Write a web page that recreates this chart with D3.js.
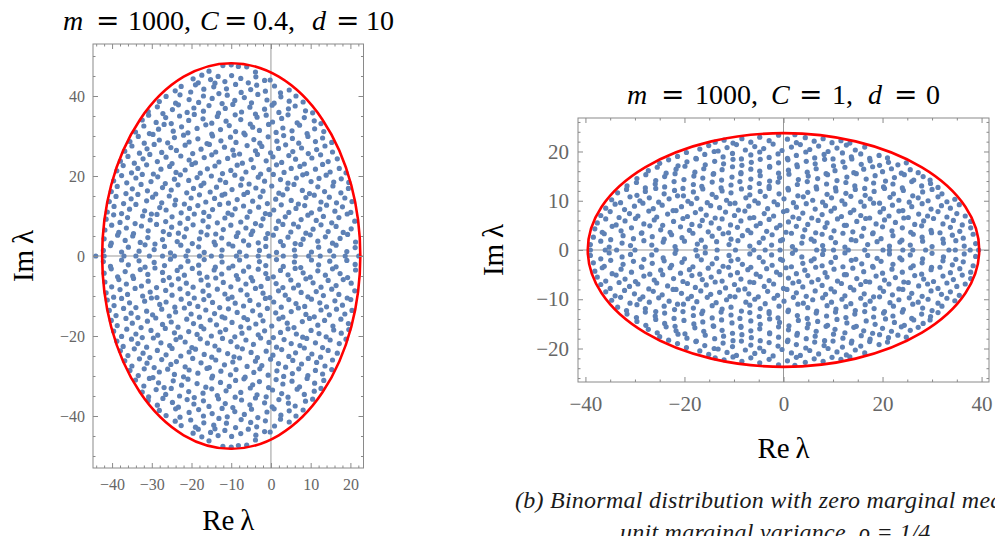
<!DOCTYPE html>
<html><head><meta charset="utf-8">
<script src="https://cdn.jsdelivr.net/npm/d3@7"></script>
<style>body{margin:0;background:#fff}svg{display:block}</style>
</head><body>
<svg id="chart" width="995" height="536"></svg>
<script>
// ---------- DATA ----------
// Panel (a): m = 1000, C = 0.4, d = 10. Complex eigenvalues with Im > 0 (their conjugates are drawn mirrored)
const leftUpper = [
[-12.1,47.6],[-10.0,47.8],[-8.2,47.4],[-6.1,47.3],[-15.6,46.2],[-3.9,46.0],
[-19.6,44.3],[-17.4,45.2],[-15.2,44.1],[-13.3,44.9],[-11.6,43.6],[-9.9,45.1],[-7.6,44.4],[-5.7,43.3],[-3.8,44.8],[-1.6,43.9],[-14.1,43.2],[-0.2,44.0],[-18.3,43.3],
[-24.1,41.3],[-22.6,42.4],[-20.2,41.0],[-19.0,42.8],[-16.9,41.7],[-14.4,42.3],[-13.1,40.6],[-11.2,41.8],[-8.9,42.9],[-7.5,40.9],[-5.1,41.6],[-3.6,42.7],[-1.4,41.2],[0.9,42.5],[2.4,40.8],[4.6,41.5],
[-28.1,38.6],[-26.4,39.9],[-24.0,38.2],[-22.9,40.3],[-20.6,39.1],[-18.2,38.4],[-17.0,40.0],[-14.8,39.4],[-12.3,38.1],[-11.0,40.2],[-9.1,38.9],[-6.7,39.6],[-4.9,38.3],[-3.3,40.4],[-1.0,39.0],[0.8,38.2],[2.5,39.8],[4.6,38.7],[6.3,40.0],[8.1,38.5],
[-30.9,36.1],[-28.6,37.3],[-27.2,35.6],[-24.8,36.6],[-23.3,37.8],[-21.1,35.9],[-19.4,37.0],[-17.0,36.2],[-15.6,37.6],[-13.2,35.7],[-11.5,36.9],[-9.6,37.9],[-7.4,36.0],[-5.3,37.2],[-3.9,35.5],[-1.6,36.7],[0.3,37.7],[2.0,35.9],[4.4,36.8],[6.1,37.5],[8.7,36.3],[10.5,35.8],
[-32.4,34.0],[-30.8,35.2],[-28.9,33.4],[-26.5,34.6],[-25.1,33.1],[-23.0,35.0],[-20.7,33.9],[-19.3,35.4],[-17.1,34.3],[-14.9,33.2],[-13.5,34.9],[-11.3,33.7],[-9.0,35.3],[-7.6,34.1],[-5.2,33.0],[-3.5,34.7],[-1.2,35.2],[0.4,33.5],[2.7,34.4],[4.3,35.3],[6.6,33.3],[8.4,34.6],[10.9,33.8],[12.6,33.1],
[-34.1,31.0],[-32.0,32.5],[-30.6,30.6],[-28.3,31.7],[-26.9,32.9],[-24.6,31.2],[-22.5,32.3],[-20.9,30.8],[-18.6,31.9],[-16.4,32.8],[-14.9,30.5],[-12.7,31.6],[-10.5,32.6],[-8.9,31.1],[-6.8,30.7],[-4.6,32.2],[-2.9,31.4],[-0.6,32.9],[1.3,30.9],[3.0,32.0],[5.3,31.3],[7.2,32.7],[9.1,30.6],[11.0,31.8],[13.3,31.1],
[-35.5,28.6],[-33.4,29.9],[-31.9,28.2],[-29.7,30.4],[-28.1,29.0],[-26.0,28.3],[-24.3,29.6],[-22.0,30.2],[-20.6,28.5],[-18.4,29.3],[-16.1,28.1],[-14.7,30.0],[-12.6,28.8],[-10.2,29.7],[-8.8,28.4],[-6.5,30.3],[-4.3,29.1],[-2.8,28.2],[-0.7,29.8],[1.5,28.7],[3.2,30.1],[5.4,29.4],[7.0,28.2],[9.3,29.9],[11.2,28.6],[13.0,29.5],[15.3,28.4],
[-36.8,26.2],[-35.0,27.5],[-33.1,25.7],[-31.2,26.8],[-29.4,27.9],[-27.5,25.9],[-25.2,27.1],[-23.8,26.4],[-21.6,27.7],[-19.7,25.6],[-17.6,26.7],[-15.5,27.9],[-13.9,26.0],[-11.7,27.2],[-9.6,26.5],[-7.9,25.5],[-6.0,27.6],[-3.9,26.3],[-2.3,27.4],[-0.1,25.8],[1.9,26.9],[3.7,27.8],[5.5,26.1],[7.7,27.0],[9.4,25.6],[11.5,26.6],[13.6,27.5],[15.5,26.0],
[-37.9,23.7],[-36.0,24.9],[-34.4,23.2],[-32.2,24.3],[-30.5,25.4],[-28.6,23.6],[-26.4,24.7],[-24.9,23.1],[-22.7,25.0],[-20.6,24.0],[-19.0,23.3],[-16.8,24.6],[-14.9,25.3],[-13.1,23.5],[-10.9,24.4],[-9.3,25.2],[-7.2,23.2],[-5.0,24.1],[-3.4,25.4],[-1.2,23.8],[0.5,24.8],[2.7,23.4],[4.5,25.1],[6.2,24.2],[8.4,23.0],[10.3,24.5],[12.5,25.3],[14.4,23.6],[16.7,24.3],
[-38.8,21.3],[-37.2,22.6],[-35.1,20.8],[-33.5,21.9],[-31.3,22.8],[-29.6,20.5],[-27.7,21.7],[-25.5,22.4],[-23.9,20.9],[-21.6,21.5],[-19.9,22.9],[-17.8,20.7],[-16.0,21.8],[-14.1,22.5],[-12.2,20.6],[-10.1,21.4],[-8.5,22.7],[-6.3,21.0],[-4.4,22.1],[-2.6,20.5],[-0.5,21.6],[1.4,22.8],[3.3,20.9],[5.1,21.9],[7.3,22.4],[9.0,20.6],[11.2,21.7],[13.0,22.9],[14.9,21.0],[17.2,21.9],[18.9,20.8],
[-39.6,18.8],[-37.6,20.1],[-36.3,18.3],[-34.0,19.5],[-32.4,20.4],[-30.2,18.6],[-28.5,19.8],[-26.6,18.1],[-24.3,19.2],[-22.8,20.3],[-20.7,18.9],[-18.6,19.6],[-16.9,18.2],[-15.0,20.0],[-12.8,19.0],[-11.4,18.4],[-9.1,20.2],[-7.3,19.3],[-5.5,18.0],[-3.2,19.7],[-1.6,18.7],[0.6,20.4],[2.4,19.1],[4.3,18.2],[6.4,19.5],[8.0,20.3],[10.1,18.6],[12.1,19.4],[13.9,20.2],[15.8,18.5],[17.7,19.3],[19.6,18.4],
[-40.2,16.1],[-38.7,17.4],[-36.5,15.6],[-34.9,16.8],[-32.7,17.9],[-31.1,16.3],[-29.0,15.5],[-27.3,17.1],[-25.1,16.5],[-23.4,17.8],[-21.2,15.8],[-19.5,16.9],[-17.6,17.6],[-15.3,16.0],[-13.7,17.2],[-11.6,15.5],[-9.8,16.6],[-7.6,17.7],[-5.9,15.9],[-3.8,17.0],[-2.0,16.2],[0.2,17.5],[2.0,15.7],[4.1,16.8],[5.8,17.9],[7.9,16.4],[9.7,15.6],[11.8,17.3],[13.5,16.1],[15.6,17.5],[17.6,15.8],[19.5,16.9],
[-40.7,13.6],[-39.0,14.9],[-37.1,13.1],[-35.2,14.3],[-33.5,15.4],[-31.3,13.8],[-29.8,14.7],[-27.5,13.3],[-25.6,15.0],[-24.0,14.0],[-21.8,13.0],[-20.1,14.5],[-18.0,15.3],[-16.4,13.5],[-14.2,14.4],[-12.3,15.2],[-10.7,13.2],[-8.5,14.1],[-6.8,15.4],[-4.6,13.7],[-2.7,14.8],[-0.9,13.1],[1.2,14.2],[3.0,15.3],[5.1,13.9],[6.9,13.0],[8.8,14.6],[10.9,15.2],[12.6,13.5],[14.7,14.7],[16.5,13.3],[18.6,14.5],[20.4,13.6],
[-41.2,11.0],[-39.5,12.4],[-37.6,10.6],[-35.6,11.7],[-34.0,12.9],[-31.8,11.3],[-30.1,10.5],[-28.0,12.1],[-26.4,11.5],[-24.2,12.8],[-22.6,10.8],[-20.5,11.9],[-18.4,12.6],[-16.9,10.9],[-14.7,11.6],[-12.9,12.9],[-10.8,10.7],[-9.0,11.8],[-6.9,12.5],[-5.3,11.1],[-3.1,12.2],[-1.4,10.6],[0.7,11.5],[2.6,12.8],[4.5,10.9],[6.3,11.9],[8.5,12.6],[10.2,10.8],[12.3,11.7],[14.0,12.7],[16.1,11.2],[18.0,12.3],[20.1,10.9],
[-41.5,9.2],[-39.6,10.3],[-38.0,8.4],[-36.1,9.6],[-34.2,8.1],[-32.3,10.0],[-30.4,9.0],[-28.7,10.4],[-26.5,8.6],[-24.9,9.8],[-22.9,8.2],[-20.9,9.4],[-19.3,10.5],[-17.1,8.8],[-15.6,9.9],[-13.5,8.3],[-11.6,9.5],[-9.8,10.3],[-7.6,8.5],[-6.0,9.7],[-3.9,8.1],[-2.0,9.3],[-0.3,10.4],[1.9,8.7],[3.6,9.8],[5.7,8.0],[7.6,9.1],[9.3,10.2],[11.4,8.9],[13.2,9.9],[15.3,8.3],[17.1,9.6],[19.2,10.5],[21.1,8.7],
[-41.8,6.5],[-40.1,7.7],[-38.3,5.9],[-36.4,7.0],[-34.6,5.6],[-32.6,7.5],[-30.9,6.3],[-28.8,7.9],[-27.1,6.1],[-25.0,7.2],[-23.3,5.7],[-21.3,6.8],[-19.6,7.8],[-17.6,6.0],[-15.8,7.3],[-13.9,5.5],[-12.0,6.6],[-10.1,7.7],[-8.3,5.8],[-6.3,7.0],[-4.6,6.2],[-2.5,7.6],[-0.8,5.6],[1.3,6.9],[3.0,7.9],[5.0,6.0],[6.9,7.3],[8.8,5.7],[10.6,6.7],[12.6,7.8],[14.4,6.1],[16.4,7.4],[18.2,5.9],[20.2,6.8],
[-42.0,4.3],[-40.2,3.2],[-38.6,5.2],[-36.7,3.9],[-34.8,5.0],[-32.9,3.4],[-31.0,4.6],[-29.2,3.0],[-27.3,4.1],[-25.6,5.4],[-23.6,3.6],[-21.8,4.8],[-19.8,3.1],[-18.0,4.3],[-16.1,5.3],[-14.3,3.5],[-12.4,4.5],[-10.6,3.0],[-8.7,4.9],[-6.9,3.8],[-5.0,5.4],[-3.2,3.3],[-1.3,4.4],[0.6,5.2],[2.4,3.6],[4.3,4.7],[6.1,3.1],[8.1,4.2],[9.9,5.3],[11.8,3.7],[13.7,4.8],[15.5,3.2],[17.4,4.4],[19.3,5.4],[21.3,3.5],
[-42.2,1.4],[-40.4,2.6],[-37.6,1.0],[-35.9,2.2],[-33.2,1.2],[-31.7,2.8],[-29.4,1.6],[-26.8,2.4],[-25.3,0.8],[-22.7,2.7],[-20.9,1.3],[-18.2,2.3],[-16.8,0.9],[-14.0,2.8],[-12.3,1.5],[-9.6,2.5],[-7.9,1.0],[-5.6,2.7],[-2.9,1.4],[-1.3,2.4],[1.4,0.9],[3.1,2.6],[5.9,1.5],[7.5,2.9],[10.2,1.0],[12.0,2.2],[14.8,1.3],[16.4,2.7],[19.1,1.1],[21.2,2.1]
];
// real eigenvalues (Im = 0)
const leftReal = [-44.1,-42.0,-37.0,-34.0,-30.6,-27.3,-24.3,-21.4,-18.0,-15.0,-12.5,-8.7,-6.2,-3.2,-0.5,3.1,6.1,9.5,12.4,15.8,18.7,22.1];
// boundary ellipse: centre, semi-axis along Re, semi-axis along Im
const leftEllipse = [-10, 32.5, 48.2];

// Panel (b): m = 1000, C = 1, d = 0
const rightUpper = [
[-39.0,1.1],[-36.9,1.8],[-35.2,0.6],[-32.6,1.4],[-30.9,0.9],[-28.2,1.9],[-26.6,1.0],[-24.3,1.6],[-21.9,0.7],[-20.0,1.8],[-17.4,1.2],[-15.8,0.6],[-13.5,1.7],[-11.0,1.1],[-9.2,1.9],[-6.8,0.8],[-4.9,1.5],[-2.4,1.0],[-0.6,1.9],[1.8,0.7],[3.7,1.4],[6.2,1.8],[7.9,0.9],[10.5,1.5],[12.4,0.6],[14.6,1.9],[17.0,1.1],[18.9,1.7],[21.4,0.8],[23.5,1.6],[25.6,1.0],[28.1,1.8],[30.0,0.7],[32.3,1.4],[34.8,1.9],[36.5,0.8],[38.8,1.3],
[-38.4,2.6],[-36.2,3.3],[-34.9,2.1],[-32.4,2.9],[-30.3,2.3],[-28.7,3.4],[-26.5,2.7],[-24.1,2.2],[-22.6,3.1],[-20.5,2.5],[-18.3,3.4],[-16.6,2.0],[-14.4,2.8],[-12.2,3.3],[-10.6,2.2],[-8.3,2.9],[-6.6,3.5],[-4.1,2.4],[-2.3,3.1],[-0.2,2.1],[1.6,3.4],[3.9,2.7],[5.6,2.2],[7.8,3.2],[9.6,2.5],[12.0,3.4],[13.7,2.1],[15.8,2.8],[18.0,3.3],[19.7,2.3],[22.1,2.9],[23.9,2.0],[26.2,3.2],[28.0,2.6],[29.9,3.5],[32.2,2.2],[34.1,3.0],[36.3,2.4],[38.3,3.2],
[-38.1,4.3],[-36.6,3.6],[-34.6,4.8],[-32.8,3.9],[-30.7,4.5],[-28.6,3.5],[-27.0,4.9],[-24.8,4.1],[-22.9,3.6],[-20.8,4.7],[-19.0,4.0],[-16.9,4.9],[-15.2,3.7],[-13.0,4.4],[-11.1,3.5],[-9.3,4.6],[-7.2,4.0],[-5.5,4.9],[-3.4,3.8],[-1.4,4.5],[0.5,3.6],[2.6,4.8],[4.3,4.1],[6.5,3.5],[8.4,4.6],[10.2,3.9],[12.3,5.0],[14.0,3.7],[16.2,4.4],[18.1,3.5],[20.0,4.7],[21.9,3.9],[24.0,4.5],[25.7,3.6],[27.9,4.9],[29.8,4.0],[31.6,3.5],[33.7,4.6],[35.6,3.8],[37.8,4.5],
[-37.6,5.5],[-35.9,6.3],[-33.8,5.1],[-32.0,5.9],[-29.9,6.4],[-28.2,5.3],[-26.1,6.1],[-24.4,5.0],[-22.2,5.8],[-20.3,6.4],[-18.5,5.2],[-16.4,6.0],[-14.6,5.5],[-12.4,6.3],[-10.7,5.1],[-8.6,5.9],[-6.8,6.5],[-4.7,5.4],[-2.9,6.2],[-0.7,5.0],[1.0,5.7],[3.1,6.4],[4.9,5.2],[7.0,6.0],[8.8,5.5],[10.9,6.3],[12.7,5.0],[14.8,5.8],[16.6,6.4],[18.7,5.3],[20.4,6.1],[22.6,5.6],[24.3,6.5],[26.5,5.2],[28.3,5.9],[30.3,6.4],[32.2,5.3],[34.3,6.0],[36.1,5.1],[37.8,5.8],
[-36.9,7.0],[-35.0,7.8],[-33.2,6.6],[-31.1,7.4],[-29.4,6.9],[-27.2,7.9],[-25.6,6.7],[-23.4,7.3],[-21.7,8.0],[-19.4,6.8],[-17.8,7.6],[-15.6,7.1],[-13.8,6.5],[-11.7,7.7],[-9.9,7.0],[-7.8,7.9],[-6.0,6.6],[-3.9,7.4],[-2.0,6.9],[0.0,7.8],[1.9,6.7],[3.9,7.5],[5.7,6.5],[7.8,7.2],[9.6,7.9],[11.7,6.8],[13.5,7.6],[15.6,7.0],[17.4,6.5],[19.5,7.7],[21.3,6.9],[23.3,7.9],[25.2,6.6],[27.3,7.3],[29.1,6.9],[31.2,7.8],[33.0,6.7],[35.0,7.4],[36.7,6.9],
[-35.9,8.5],[-34.0,9.3],[-32.1,8.2],[-30.1,8.9],[-28.4,9.5],[-26.3,8.4],[-24.5,9.1],[-22.3,8.0],[-20.6,8.8],[-18.6,9.4],[-16.7,8.3],[-14.7,9.0],[-12.9,8.6],[-10.8,9.4],[-9.1,8.1],[-7.0,8.9],[-5.1,9.5],[-3.2,8.4],[-1.2,9.2],[0.7,8.0],[2.6,8.7],[4.6,9.4],[6.4,8.3],[8.5,9.0],[10.3,8.5],[12.4,9.3],[14.2,8.1],[16.3,8.9],[18.2,9.5],[20.2,8.4],[22.0,9.1],[24.1,8.0],[25.9,8.8],[28.0,9.4],[29.8,8.3],[31.9,9.0],[33.7,8.5],[35.5,9.2],
[-34.7,10.2],[-32.9,9.6],[-31.0,10.8],[-29.0,10.0],[-27.1,10.6],[-25.2,9.7],[-23.1,10.4],[-21.4,11.0],[-19.3,9.9],[-17.5,10.5],[-15.4,9.6],[-13.6,10.7],[-11.5,10.1],[-9.8,9.5],[-7.6,10.6],[-5.8,10.0],[-3.7,10.9],[-1.9,9.8],[0.1,10.4],[2.0,9.6],[4.0,10.8],[5.9,10.1],[7.9,9.7],[9.7,10.6],[11.8,10.0],[13.6,10.9],[15.6,9.8],[17.5,10.4],[19.4,9.5],[21.5,10.7],[23.3,10.1],[25.4,9.7],[27.2,10.6],[29.2,10.0],[31.2,10.8],[33.0,9.8],[34.6,10.3],
[-33.5,11.6],[-31.7,12.3],[-29.6,11.1],[-27.9,11.9],[-25.8,12.5],[-24.1,11.4],[-22.0,12.1],[-20.2,11.0],[-18.2,11.8],[-16.3,12.4],[-14.4,11.3],[-12.4,12.0],[-10.6,11.6],[-8.5,12.4],[-6.8,11.2],[-4.7,11.9],[-2.9,12.5],[-0.9,11.4],[1.0,12.2],[2.9,11.0],[4.9,11.7],[6.7,12.4],[8.8,11.3],[10.6,12.0],[12.6,11.5],[14.5,12.3],[16.5,11.1],[18.3,11.9],[20.4,12.5],[22.2,11.4],[24.2,12.1],[26.1,11.0],[28.1,11.8],[30.0,12.3],[32.0,11.4],
[-31.6,13.0],[-29.7,13.7],[-27.9,12.6],[-25.9,13.4],[-24.0,12.8],[-22.1,13.9],[-20.3,12.5],[-18.2,13.3],[-16.5,12.9],[-14.4,13.8],[-12.6,12.6],[-10.6,13.2],[-8.8,13.9],[-6.8,12.7],[-4.9,13.5],[-2.9,12.9],[-1.1,13.8],[0.9,12.5],[2.8,13.3],[4.8,13.9],[6.6,12.8],[8.7,13.4],[10.5,12.6],[12.6,13.7],[14.4,13.0],[16.4,12.5],[18.2,13.6],[20.2,12.8],[22.1,13.4],[24.0,12.6],[25.9,13.9],[27.9,13.0],[29.7,13.5],[31.2,12.7],
[-29.6,14.5],[-27.8,15.3],[-25.8,14.1],[-24.0,14.9],[-21.9,15.5],[-20.1,14.3],[-18.1,15.0],[-16.3,14.6],[-14.2,15.4],[-12.5,14.2],[-10.4,14.8],[-8.6,15.5],[-6.6,14.4],[-4.7,15.1],[-2.8,14.0],[-0.8,14.7],[1.1,15.4],[3.0,14.3],[5.0,15.0],[6.9,14.5],[8.9,15.3],[10.8,14.1],[12.8,14.8],[14.7,15.5],[16.7,14.4],[18.5,15.1],[20.6,14.0],[22.4,14.7],[24.4,15.3],[26.3,14.2],[28.2,14.9],[29.6,14.2],
[-27.3,16.1],[-25.5,16.8],[-23.7,15.6],[-21.7,16.4],[-19.9,17.0],[-17.9,15.8],[-16.1,16.5],[-14.1,15.5],[-12.4,16.3],[-10.3,16.9],[-8.6,15.7],[-6.6,16.4],[-4.8,16.0],[-2.8,16.8],[-1.0,15.6],[1.0,16.2],[2.8,16.9],[4.8,15.8],[6.6,16.5],[8.6,15.5],[10.4,16.1],[12.4,16.8],[14.2,15.7],[16.2,16.4],[18.0,16.9],[20.0,15.9],[21.8,16.5],[23.8,15.6],[25.6,16.3],[27.2,15.7],
[-25.0,17.6],[-23.2,18.3],[-21.3,17.1],[-19.5,17.9],[-17.6,18.5],[-15.8,17.3],[-13.9,18.0],[-12.1,17.5],[-10.2,18.4],[-8.4,17.2],[-6.5,17.8],[-4.7,18.4],[-2.8,17.0],[-1.0,17.7],[0.9,18.3],[2.7,17.3],[4.6,18.0],[6.4,17.5],[8.3,18.4],[10.1,17.1],[12.0,17.9],[13.8,18.5],[15.7,17.4],[17.5,18.1],[19.4,17.2],[21.2,17.8],[23.1,17.3],[24.8,17.7],
[-21.4,19.0],[-19.6,19.8],[-17.7,18.6],[-15.9,19.4],[-14.0,20.0],[-12.2,18.9],[-10.3,19.6],[-8.5,18.5],[-6.6,19.3],[-4.8,19.9],[-2.9,18.8],[-1.1,19.5],[0.8,18.6],[2.6,19.2],[4.5,19.9],[6.3,18.7],[8.2,19.4],[10.0,18.5],[11.9,19.7],[13.7,18.9],[15.6,19.5],[17.4,18.6],[19.3,19.2],[21.0,18.7],
[-16.9,20.5],[-15.1,21.2],[-13.2,20.1],[-11.4,20.8],[-9.5,21.4],[-7.7,20.3],[-5.8,21.0],[-4.0,20.6],[-2.1,21.5],[-0.3,20.2],[1.6,20.9],[3.4,21.4],[5.3,20.4],[7.1,21.1],[9.0,20.0],[10.8,20.7],[12.7,21.3],[14.5,20.3],[16.4,20.9],
[-13.8,21.9],[-12.0,22.3],[-10.2,21.7],[-8.4,22.6],[-6.6,21.9],[-4.8,22.9],[-2.9,22.2],[-1.0,23.3],[0.8,22.5],[2.6,21.8],[4.4,22.8],[6.2,22.1],[8.0,22.6],[9.8,21.8],[11.6,22.2],[13.4,21.7],[2.3,23.4]
];
const rightReal = [-39.0,-36.0,-33.7,-30.0,-25.7,-21.7,-17.7,-13.4,-9.7,-6.0,-3.7,-0.7,2.4,6.7,8.1,10.1,13.1,16.4,20.1,21.4,24.1,26.1,28.7,33.4,34.7,37.7,39.4];
const rightEllipse = [0, 39.53, 23.72];

// tick values
const leftXMajor = [-40,-30,-20,-10,0,10,20];
const leftXMinor = [-44,-42,-38,-36,-34,-32,-28,-26,-24,-22,-18,-16,-14,-12,-8,-6,-4,-2,2,4,6,8,12,14,16,18,22];
const leftYMajor = [-40,-20,0,20,40];
const leftYMinor = [-50,-45,-35,-30,-25,-15,-10,-5,5,10,15,25,30,35,45,50];
const rightXMajor = [-40,-20,0,20,40];
const rightXMinor = [-35,-30,-25,-15,-10,-5,5,10,15,25,30,35];
const rightYMajor = [-20,-10,0,10,20];
const rightYMinor = [-26,-24,-22,-18,-16,-14,-12,-8,-6,-4,-2,2,4,6,8,12,14,16,18,22,24,26];

// title tokens [text, italic]
const leftTitle = [["m",1],["=",0],["1000,",0],["C",1],["=",0],["0.4,",0],["d",1],["=",0],["10",0]];
const rightTitle = [["m",1],["=",0],["1000,",0],["C",1],["=",0],["1,",0],["d",1],["=",0],["0",0]];
const captionLines = ["(b) Binormal distribution with zero marginal mean and", "unit marginal variance, \u03C1 = 1/4."];

// ---------- DRAWING ----------
const svg = d3.select("#chart");
const SERIF = "'Liberation Serif','Times New Roman',serif";
const FRAME = "#8a8a8a", LABEL = "#666666", DOT = "#5E81B5";

function panel(o){
  const x = d3.scaleLinear().domain(o.xDomain).range([o.left, o.right]);
  const y = d3.scaleLinear().domain(o.yDomain).range([o.bottom, o.top]);
  const g = svg.append("g");
  svg.append("clipPath").attr("id", o.id).append("rect")
    .attr("x", o.left).attr("y", o.top).attr("width", o.right - o.left).attr("height", o.bottom - o.top);
  const p = g.append("g").attr("clip-path", `url(#${o.id})`);
  p.append("line").attr("x1", o.left).attr("x2", o.right).attr("y1", y(0)).attr("y2", y(0))
    .attr("stroke", "#999").attr("stroke-width", 1);
  p.append("line").attr("x1", x(0)).attr("x2", x(0)).attr("y1", o.top).attr("y2", o.bottom)
    .attr("stroke", "#999").attr("stroke-width", 1);
  const pts = o.upper.flatMap(d => [d, [d[0], -d[1]]]).concat(o.real.map(v => [v, 0]));
  p.selectAll("circle").data(pts).join("circle")
    .attr("cx", d => x(d[0])).attr("cy", d => y(d[1])).attr("r", 2.6).attr("fill", DOT);
  const [c, a, b] = o.ell;
  p.append("ellipse").attr("cx", x(c)).attr("cy", y(0))
    .attr("rx", x(c + a) - x(c)).attr("ry", y(0) - y(b))
    .attr("fill", "none").attr("stroke", "#ff0000").attr("stroke-width", 2.6);
  g.append("rect").attr("x", o.left).attr("y", o.top).attr("width", o.right - o.left).attr("height", o.bottom - o.top)
    .attr("fill", "none").attr("stroke", FRAME).attr("stroke-width", 1);

  function ax(gen, tr, vals, size, labels, pad){
    const axis = gen.tickValues(vals).tickSize(-size).tickPadding(pad || 3)
      .tickFormat(labels ? d3.format("d") : () => "");
    const ag = g.append("g").attr("transform", tr).call(axis);
    ag.select(".domain").remove();
    ag.selectAll(".tick line").attr("stroke", FRAME);
    ag.attr("font-family", SERIF).attr("font-size", o.fs);
    ag.selectAll("text").attr("fill", LABEL);
  }
  const bt = `translate(0,${o.bottom})`, tp = `translate(0,${o.top})`;
  const lf = `translate(${o.left},0)`, rt = `translate(${o.right},0)`;
  ax(d3.axisBottom(x), bt, o.xMajor, 5, true, o.xPad);
  ax(d3.axisBottom(x), bt, o.xMinor, 2.5, false);
  ax(d3.axisTop(x), tp, o.xMajor, 5, false);
  ax(d3.axisTop(x), tp, o.xMinor, 2.5, false);
  ax(d3.axisLeft(y), lf, o.yMajor, 5, true, o.yPad);
  ax(d3.axisLeft(y), lf, o.yMinor, 2.5, false);
  ax(d3.axisRight(y), rt, o.yMajor, 5, false);
  ax(d3.axisRight(y), rt, o.yMinor, 2.5, false);

  // axis titles
  const cx = (o.left + o.right) / 2, cy = (o.top + o.bottom) / 2;
  svg.append("text").attr("x", cx).attr("y", o.reY).attr("text-anchor", "middle")
    .attr("font-family", SERIF).attr("font-size", 29).text("Re\u2009\u03BB");
  svg.append("text").attr("transform", `translate(${o.imX},${cy}) rotate(-90)`).attr("text-anchor", "middle")
    .attr("font-family", SERIF).attr("font-size", 29).text("Im\u2009\u03BB");

  // title
  const t = svg.append("text").attr("y", o.titleY).attr("font-size", 28).attr("fill", "#000");
  o.title.forEach((tok, i) => {
    t.append("tspan").attr("x", o.titleX[i]).text(tok[0])
      .attr("font-style", tok[1] ? "italic" : "normal")
      .attr("font-family", tok[0] === "=" ? "'DejaVu Serif',serif" : SERIF);
  });
}

panel({id: "clipL", upper: leftUpper, real: leftReal, ell: leftEllipse,
  xDomain: [-44.8, 23.3], yDomain: [-53, 53], left: 93, right: 363.5, top: 44, bottom: 468,
  xMajor: leftXMajor, xMinor: leftXMinor, yMajor: leftYMajor, yMinor: leftYMinor,
  fs: 16, xPad: 11, yPad: 8, reY: 530, imX: 33,
  title: leftTitle, titleX: [63, 96, 128, 200, 224, 253, 312, 336, 366], titleY: 30});

panel({id: "clipR", upper: rightUpper, real: rightReal, ell: rightEllipse,
  xDomain: [-41.5, 41.5], yDomain: [-26.8, 26.8], left: 578, right: 989, top: 118, bottom: 382,
  xMajor: rightXMajor, xMinor: rightXMinor, yMajor: rightYMajor, yMinor: rightYMinor,
  fs: 21, xPad: 14, yPad: 9, reY: 458, imX: 503,
  title: rightTitle, titleX: [627, 661, 695, 771, 799, 832, 868, 894, 926], titleY: 104});

// caption (the reference shows it running past the right and bottom edges)
svg.append("text").attr("x", 515).attr("y", 508).attr("font-family", SERIF).attr("font-style", "italic")
  .attr("font-size", 24).attr("letter-spacing", 0.25).attr("fill", "#1a1a1a").text(captionLines[0]);
svg.append("text").attr("x", 620).attr("y", 540).attr("font-family", SERIF).attr("font-style", "italic")
  .attr("font-size", 24).attr("letter-spacing", 0.25).attr("fill", "#1a1a1a").text(captionLines[1]);
</script>
</body></html>
